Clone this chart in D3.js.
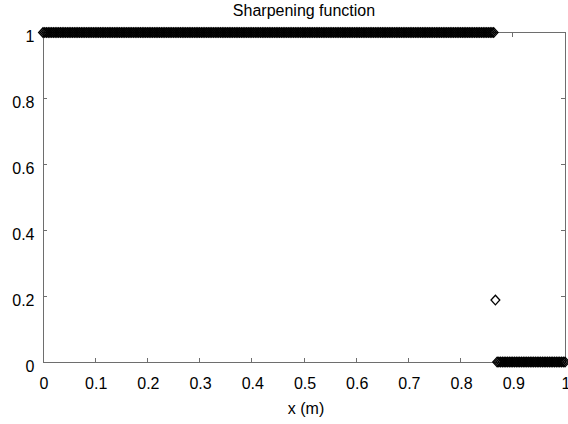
<!DOCTYPE html>
<html>
<head>
<meta charset="utf-8">
<script src="https://cdn.jsdelivr.net/npm/d3@7"></script>
<style>
  html, body { margin: 0; padding: 0; background: #fff; }
  svg { display: block; }
  text { font-family: "Liberation Sans", Arial, Helvetica, sans-serif; fill: #000; }
</style>
</head>
<body>
<script>
// Plot text
const titleText = "Sharpening function";
const xLabelText = "x (m)";

// Axis ticks
const xTicks = [0, 0.1, 0.2, 0.3, 0.4, 0.5, 0.6, 0.7, 0.8, 0.9, 1];
const yTicks = [0, 0.2, 0.4, 0.6, 0.8, 1];

// Uniform 1-D mesh on [0, 1] with 300 cells (301 nodes)
const meshCells = 300;
const meshX = d3.range(meshCells + 1).map(i => i / meshCells);

// Sharpened field at the nodes, stored as runs of [value, node count]
const valueRuns = [
  [1, 260],      // x = 0 … 0.8633
  [0.188, 1],    // interface node, x ≈ 0.8667
  [0, 40]        // x = 0.87 … 1
];
const nodeValues = valueRuns.flatMap(([v, n]) => Array(n).fill(v));
const points = meshX.map((x, i) => ({ x, y: nodeValues[i] }));

(function draw() {
  const W = 568, H = 424;
  const plotLeft = 43, plotRight = 565, plotTop = 32.5, plotBottom = 362;

  const svg = d3.select("body").append("svg")
    .attr("width", W).attr("height", H);

  const x = d3.scaleLinear().domain([0, 1]).range([plotLeft, plotRight]);
  const y = d3.scaleLinear().domain([0, 1]).range([plotBottom, plotTop]);

  const axisColor = "#6e6e6e";
  const tickLen = 4;

  // Box
  svg.append("rect")
    .attr("x", plotLeft).attr("y", plotTop)
    .attr("width", plotRight - plotLeft).attr("height", plotBottom - plotTop)
    .attr("fill", "none").attr("stroke", axisColor).attr("stroke-width", 1)
    .attr("shape-rendering", "crispEdges");

  // Inward ticks on all four sides
  const tickG = svg.append("g")
    .attr("stroke", axisColor).attr("stroke-width", 1)
    .attr("shape-rendering", "crispEdges");
  xTicks.forEach(t => {
    tickG.append("line").attr("x1", x(t)).attr("x2", x(t)).attr("y1", plotBottom).attr("y2", plotBottom - tickLen);
    tickG.append("line").attr("x1", x(t)).attr("x2", x(t)).attr("y1", plotTop).attr("y2", plotTop + tickLen);
  });
  yTicks.forEach(t => {
    tickG.append("line").attr("y1", y(t)).attr("y2", y(t)).attr("x1", plotLeft).attr("x2", plotLeft + tickLen);
    tickG.append("line").attr("y1", y(t)).attr("y2", y(t)).attr("x1", plotRight).attr("x2", plotRight - tickLen);
  });

  // Tick labels
  const fmt = d => String(+d.toFixed(2));
  svg.append("g").selectAll("text").data(xTicks).join("text")
    .attr("x", d => x(d) + 1).attr("y", plotBottom + 27)
    .attr("text-anchor", "middle").attr("font-size", 16)
    .text(fmt);
  svg.append("g").selectAll("text").data(yTicks).join("text")
    .attr("x", plotLeft - 8.5).attr("y", d => y(d) + 9.5)
    .attr("text-anchor", "end").attr("font-size", 16)
    .text(fmt);

  // Title and axis label
  svg.append("text")
    .attr("x", (plotLeft + plotRight) / 2).attr("y", 16)
    .attr("text-anchor", "middle").attr("font-size", 16)
    .text(titleText);
  svg.append("text")
    .attr("x", (plotLeft + plotRight) / 2 + 2).attr("y", 414)
    .attr("text-anchor", "middle").attr("font-size", 16)
    .text(xLabelText);

  // Hollow diamond markers at every node
  const hw = 4.4, hh = 4.8;
  const diamond = `M0,${-hh}L${hw},0L0,${hh}L${-hw},0Z`;
  svg.append("g").selectAll("path").data(points).join("path")
    .attr("transform", d => `translate(${x(d.x)},${y(d.y)})`)
    .attr("d", diamond)
    .attr("fill", "none")
    .attr("stroke", "#000")
    .attr("stroke-width", 1.3);
})();
</script>
</body>
</html>
